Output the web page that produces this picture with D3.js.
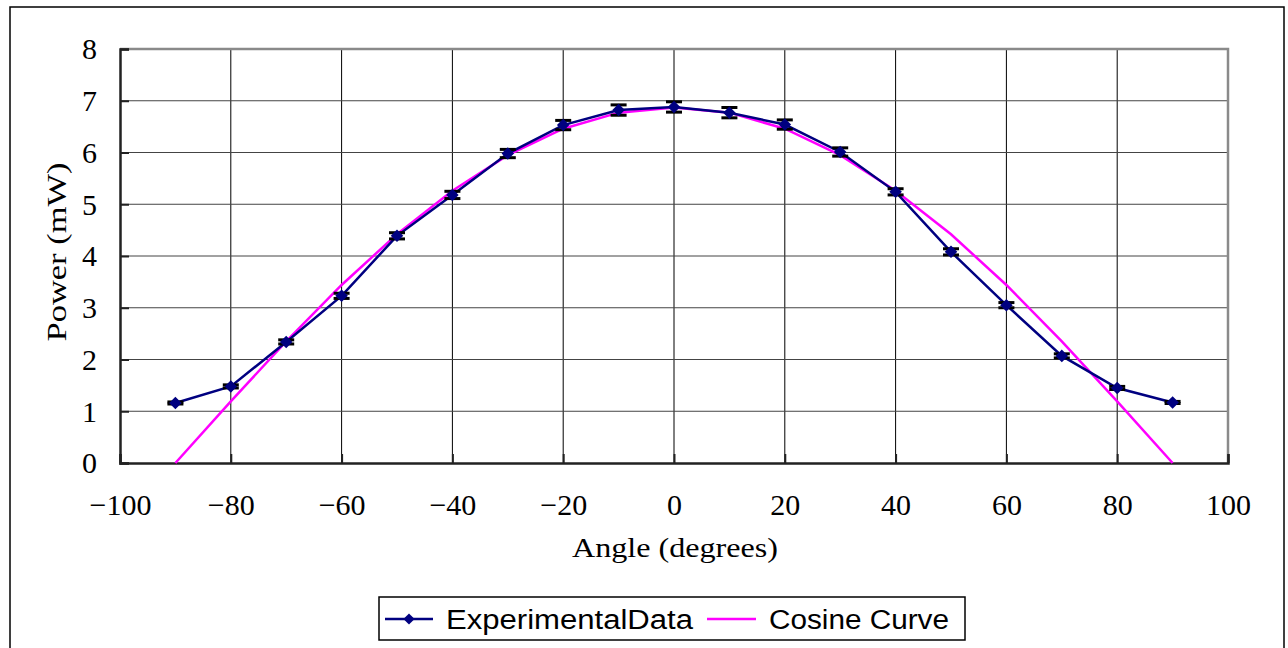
<!DOCTYPE html>
<html lang="en">
<head>
<meta charset="utf-8">
<title>Power vs Angle</title>
<script type="text/javascript" src="https://cdn.jsdelivr.net/npm/d3@7"></script>
<style>
  body { margin: 0; background: #fff; }
  svg text { fill: #000; }
</style>
</head>
<body>
<script type="text/javascript">
let angles = [-90, -80, -70, -60, -50, -40, -30, -20, -10, 0, 10, 20, 30, 40, 50, 60, 70, 80, 90]
let power = [1.16, 1.48, 2.34, 3.23, 4.39, 5.18, 5.98, 6.53, 6.82, 6.88, 6.77, 6.54, 6.01, 5.24, 4.08, 3.05, 2.07, 1.45, 1.17]
let errors = [0.02, 0.03, 0.04, 0.05, 0.06, 0.07, 0.08, 0.09, 0.1, 0.1, 0.1, 0.09, 0.08, 0.06, 0.06, 0.05, 0.04, 0.03, 0.02]
let cosine = [0, 1.19, 2.35, 3.44, 4.42, 5.26, 5.95, 6.46, 6.77, 6.87, 6.77, 6.46, 5.95, 5.26, 4.42, 3.44, 2.35, 1.19, 0]
let xTicks = [-100, -80, -60, -40, -20, 0, 20, 40, 60, 80, 100]
let yTicks = [0, 1, 2, 3, 4, 5, 6, 7, 8]
let seriesNames = ["ExperimentalData", "Cosine Curve"]

let w = 1288
let h = 648
let plotLeft = 120, plotRight = 1228, plotTop = 49, plotBottom = 463

let serif = "'Liberation Serif', 'DejaVu Serif', serif"
let sans = "'Liberation Sans', 'DejaVu Sans', sans-serif"

let svg = d3.select("body").append("svg")
  .attr("width", w)
  .attr("height", h)

// outer chart border
svg.append("rect")
  .attr("x", 10).attr("y", 7)
  .attr("width", 1274).attr("height", 660)
  .attr("fill", "none")
  .attr("stroke", "#000")
  .attr("stroke-width", 1.5)

let xScale = d3.scaleLinear().domain([-100, 100]).range([plotLeft, plotRight])
let yScale = d3.scaleLinear().domain([0, 8]).range([plotBottom, plotTop])

// grid
svg.append("g")
  .selectAll("line")
  .data(xTicks.slice(1, -1))
  .enter().append("line")
  .attr("x1", (d) => xScale(d)).attr("x2", (d) => xScale(d))
  .attr("y1", plotTop).attr("y2", plotBottom)
  .attr("stroke", "#000").attr("stroke-width", 1)

svg.append("g")
  .selectAll("line")
  .data(yTicks.slice(1, -1))
  .enter().append("line")
  .attr("x1", plotLeft).attr("x2", plotRight)
  .attr("y1", (d) => yScale(d)).attr("y2", (d) => yScale(d))
  .attr("stroke", "#444").attr("stroke-width", 1)

// top / right border of plot area (grey)
svg.append("path")
  .attr("d", "M" + plotLeft + "," + plotTop + "H" + plotRight + "V" + plotBottom)
  .attr("fill", "none")
  .attr("stroke", "#8a8a8a")
  .attr("stroke-width", 2.5)

// axes with inner ticks
let xAxis = d3.axisBottom(xScale).tickValues(xTicks).tickSize(-9).tickPadding(37)
  .tickFormat((d) => d < 0 ? "\u2212" + Math.abs(d) : d)
let yAxis = d3.axisLeft(yScale).tickValues(yTicks).tickSize(-9).tickPadding(23)

let gx = svg.append("g")
  .attr("transform", "translate(0," + plotBottom + ")")
  .call(xAxis)
let gy = svg.append("g")
  .attr("transform", "translate(" + plotLeft + ",0)")
  .call(yAxis)

for (let g of [gx, gy]) {
  g.select(".domain").attr("stroke", "#222").attr("stroke-width", 2.5)
  g.selectAll(".tick line").attr("stroke", "#222").attr("stroke-width", 2)
  g.selectAll(".tick text")
    .style("font-family", serif)
    .style("font-size", "30px")
    .attr("fill", "#111")
}
gx.selectAll(".tick text").attr("dy", "0.5em")
gy.selectAll(".tick text").attr("dy", "0.33em")

// axis titles
svg.append("text")
  .attr("x", 675).attr("y", 557)
  .attr("text-anchor", "middle")
  .style("font-family", serif)
  .style("font-size", "28px")
  .attr("fill", "#222")
  .attr("textLength", 206)
  .attr("lengthAdjust", "spacingAndGlyphs")
  .text("Angle (degrees)")

svg.append("text")
  .attr("transform", "translate(66,252) rotate(-90)")
  .attr("text-anchor", "middle")
  .style("font-family", serif)
  .style("font-size", "28px")
  .attr("fill", "#222")
  .attr("textLength", 179)
  .attr("lengthAdjust", "spacingAndGlyphs")
  .text("Power (mW)")

// cosine curve
let cosLine = d3.line()
  .x((d, i) => xScale(angles[i]))
  .y((d) => yScale(d))

svg.append("path")
  .datum(cosine)
  .attr("d", cosLine)
  .attr("fill", "none")
  .attr("stroke", "#ff00ff")
  .attr("stroke-width", 2.5)

// experimental data line
let expLine = d3.line()
  .x((d, i) => xScale(angles[i]))
  .y((d) => yScale(d))

svg.append("path")
  .datum(power)
  .attr("d", expLine)
  .attr("fill", "none")
  .attr("stroke", "#000080")
  .attr("stroke-width", 2.5)

// error bars
let bars = svg.append("g")
  .selectAll("g")
  .data(angles)
  .enter().append("g")

bars.append("line")
  .attr("x1", (d) => xScale(d)).attr("x2", (d) => xScale(d))
  .attr("y1", (d, i) => yScale(power[i] + errors[i]))
  .attr("y2", (d, i) => yScale(power[i] - errors[i]))
  .attr("stroke", "#000").attr("stroke-width", 2)

for (let sign of [1, -1]) {
  bars.append("line")
    .attr("x1", (d) => xScale(d) - 8).attr("x2", (d) => xScale(d) + 8)
    .attr("y1", (d, i) => yScale(power[i] + sign * errors[i]))
    .attr("y2", (d, i) => yScale(power[i] + sign * errors[i]))
    .attr("stroke", "#000").attr("stroke-width", 3)
}

// diamond markers
let diamond = d3.symbol().type(d3.symbolDiamond2).size(100)
svg.append("g")
  .selectAll("path")
  .data(angles)
  .enter().append("path")
  .attr("d", diamond)
  .attr("transform", (d, i) => "translate(" + xScale(d) + "," + yScale(power[i]) + ")")
  .attr("fill", "#000080")

// legend
let legend = svg.append("g")
legend.append("rect")
  .attr("x", 379).attr("y", 597)
  .attr("width", 586).attr("height", 43)
  .attr("fill", "#fff")
  .attr("stroke", "#000").attr("stroke-width", 1.5)

legend.append("line")
  .attr("x1", 385).attr("x2", 433).attr("y1", 619).attr("y2", 619)
  .attr("stroke", "#000080").attr("stroke-width", 2.5)
legend.append("path")
  .attr("d", d3.symbol().type(d3.symbolDiamond2).size(80))
  .attr("transform", "translate(409,619)")
  .attr("fill", "#000080")
legend.append("text")
  .attr("x", 446).attr("y", 629)
  .style("font-family", sans)
  .style("font-size", "27px")
  .attr("fill", "#111")
  .attr("textLength", 247)
  .attr("lengthAdjust", "spacingAndGlyphs")
  .text(seriesNames[0])

legend.append("line")
  .attr("x1", 707).attr("x2", 756).attr("y1", 619).attr("y2", 619)
  .attr("stroke", "#ff00ff").attr("stroke-width", 2.5)
legend.append("text")
  .attr("x", 769).attr("y", 629)
  .style("font-family", sans)
  .style("font-size", "27px")
  .attr("fill", "#111")
  .attr("textLength", 180)
  .attr("lengthAdjust", "spacingAndGlyphs")
  .text(seriesNames[1])
</script>
</body>
</html>
